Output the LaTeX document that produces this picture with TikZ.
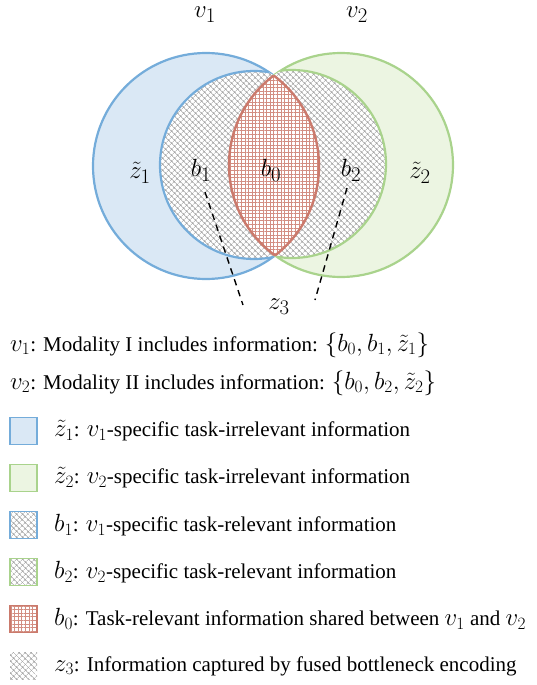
\documentclass[tikz,border=0pt]{standalone}
\usepackage{fontspec}
\setmainfont{Liberation Serif}
\usetikzlibrary{patterns.meta}
\DeclareMathSizes{21}{24}{17}{13}
\DeclareMathSizes{28}{28}{20}{15}

\definecolor{bleu}{RGB}{116,172,218}
\definecolor{bleuclair}{RGB}{218,232,245}
\definecolor{vert}{RGB}{169,211,140}
\definecolor{vertclair}{RGB}{236,245,226}
\definecolor{rouge}{RGB}{203,122,108}
\definecolor{hachure}{RGB}{160,160,160}

\tikzset{
  hatch/.style={pattern={Hatch[angle=45,distance=4pt,line width=0.5pt]}, pattern color=hachure},
  gridred/.style={pattern={Hatch[angle=0,distance=3.6pt,line width=0.5pt]}, pattern color=rouge!85},
  lab/.style={inner sep=0pt, font=\fontsize{28}{32}\selectfont},
  legtext/.style={anchor=west, inner sep=0pt, font=\fontsize{21}{25}\selectfont},
  legbox/.style={minimum size=27pt, inner sep=0pt, line width=1.6pt},
}

\begin{document}
\begin{tikzpicture}[x=1pt,y=-1pt]
 \useasboundingbox (0,0) rectangle (537,685);

 % les deux grands cercles
 \coordinate (cb) at (206,166);
 \coordinate (cv) at (341,165);
 \draw[line width=2.2pt, draw=bleu, fill=bleuclair] (cb) circle[radius=113pt];
 \draw[line width=2.2pt, draw=vert, fill=vertclair] (cv) circle[radius=112pt];

 % cercles interieurs (b1 et b2)
 \begin{scope}
  \clip (cb) circle[radius=113pt];
  \fill[white] (254,165) circle[radius=94pt];
  \fill[hatch] (254,165) circle[radius=94pt];
  \draw[line width=2.2pt, draw=bleu] (254,165) circle[radius=94pt];
 \end{scope}
 \begin{scope}
  \clip (cv) circle[radius=112pt];
  \fill[white] (292,164) circle[radius=94pt];
  \fill[hatch] (292,164) circle[radius=94pt];
  \draw[line width=2.2pt, draw=vert] (292,164) circle[radius=94pt];
 \end{scope}

 % la lentille b0
 \begin{scope}
  \clip (cb) circle[radius=113pt];
  \fill[white] (cv) circle[radius=112pt];
  \fill[gridred] (cv) circle[radius=112pt];
  \draw[line width=2.4pt, draw=rouge] (cv) circle[radius=112pt];
 \end{scope}
 \begin{scope}
  \clip (cv) circle[radius=112pt];
  \draw[line width=2.4pt, draw=rouge] (cb) circle[radius=113pt];
 \end{scope}

 % etiquettes
 \node[lab] (v1) at (205,15) {$v_1$};
 \node[lab] (v2) at (357,15) {$v_2$};
 \node[lab] (z1) at (140,173) {$\tilde{z}_1$};
 \node[lab] (b1) at (201,170) {$b_1$};
 \node[lab] (b0) at (271,170) {$b_0$};
 \node[lab] (b2) at (351,170) {$b_2$};
 \node[lab] (z2) at (420,173) {$\tilde{z}_2$};
 \node[lab] (z3) at (279,307) {$z_3$};

 \coordinate (d1s) at (205,192);
 \coordinate (d1e) at (243,305);
 \coordinate (d2s) at (347,188);
 \coordinate (d2e) at (315,300);
 \draw[line width=1.4pt, dash pattern=on 6.5pt off 5pt] (d1s) -- (d1e);
 \draw[line width=1.4pt, dash pattern=on 6.5pt off 5pt] (d2s) -- (d2e);

 % legende
 \node[legtext] (t1) at (10,345) {$v_1$: Modality I includes information: $\{b_0, b_1, \tilde{z}_1\}$};
 \node[legtext] (t2) at (10,383) {$v_2$: Modality II includes information: $\{b_0, b_2, \tilde{z}_2\}$};

 \node[legbox, draw=bleu, fill=bleuclair] (k1) at (23.5,431) {};
 \node[legbox, draw=vert, fill=vertclair] (k2) at (23.5,478) {};
 \node[legbox, draw=bleu, hatch] (k3) at (23.5,525) {};
 \node[legbox, draw=vert, hatch] (k4) at (23.5,572) {};
 \node[legbox, draw=rouge, gridred] (k5) at (23.5,619) {};
 \node[legbox, hatch] (k6) at (23.5,666) {};

 \node[legtext] (l1) at (54,431) {$\tilde{z}_1$: $v_1$-specific task-irrelevant information};
 \node[legtext] (l2) at (54,478) {$\tilde{z}_2$: $v_2$-specific task-irrelevant information};
 \node[legtext] (l3) at (54,525) {$b_1$: $v_1$-specific task-relevant information};
 \node[legtext] (l4) at (54,572) {$b_2$: $v_2$-specific task-relevant information};
 \node[legtext] (l5) at (54,619) {$b_0$: Task-relevant information shared between $v_1$ and $v_2$};
 \node[legtext] (l6) at (54,666) {$z_3$: Information captured by fused bottleneck encoding};
\end{tikzpicture}
\end{document}
